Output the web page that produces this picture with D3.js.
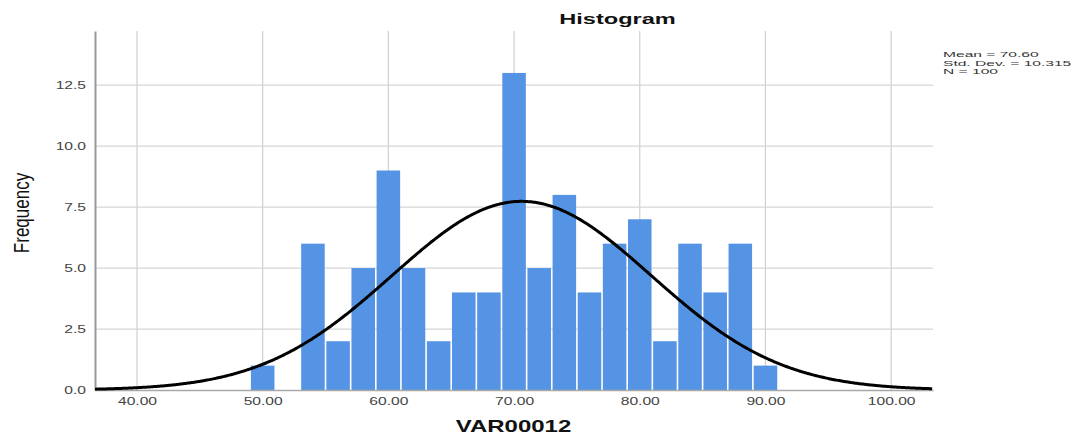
<!DOCTYPE html>
<html>
<head>
<meta charset="utf-8">
<script src="https://cdn.jsdelivr.net/npm/d3@7"></script>
<style>
  html, body { margin: 0; padding: 0; background: #fff; }
  svg { display: block; font-family: Arial, "Liberation Sans", sans-serif; }
</style>
</head>
<body>
<svg id="chart" width="1079" height="436"></svg>
<script>
// ---- data ----
const binLower = [49, 51, 53, 55, 57, 59, 61, 63, 65, 67, 69, 71, 73, 75, 77, 79, 81, 83, 85, 87, 89];
const binUpper = [51, 53, 55, 57, 59, 61, 63, 65, 67, 69, 71, 73, 75, 77, 79, 81, 83, 85, 87, 89, 91];
const counts   = [1, 0, 6, 2, 5, 9, 5, 2, 4, 4, 13, 5, 8, 4, 6, 7, 2, 6, 4, 6, 1];
const xTicks = [40, 50, 60, 70, 80, 90, 100];
const yTicks = [0, 2.5, 5, 7.5, 10, 12.5];
const statLabels = ["Mean = 70.60", "Std. Dev. = 10.315", "N = 100"];
const mean = 70.60, sd = 10.315, nTotal = 100, binWidth = 2;
const titleText = "Histogram";
const xLabel = "VAR00012";
const yLabel = "Frequency";

// ---- layout ----
const svg = d3.select("#chart");
const pLeft = 95, pRight = 933, pTop = 31, pBottom = 390;
const x = d3.scaleLinear().domain([36.66, 103.33]).range([pLeft, pRight]);
const y = d3.scaleLinear().domain([0, 14.72]).range([pBottom, pTop]);
const stretch = 1.42;

// grid
svg.append("g").selectAll("line").data(xTicks).join("line")
  .attr("x1", d => x(d)).attr("x2", d => x(d))
  .attr("y1", pTop).attr("y2", pBottom)
  .attr("stroke", "#cfcfcf").attr("stroke-width", 1.2);
svg.append("g").selectAll("line").data(yTicks.filter(d => d > 0)).join("line")
  .attr("x1", pLeft).attr("x2", pRight)
  .attr("y1", d => y(d)).attr("y2", d => y(d))
  .attr("stroke", "#d6d6d6").attr("stroke-width", 1.2);

// bars
const bins = counts.map((c, i) => ({ x0: binLower[i], x1: binUpper[i], c }));
svg.append("g").selectAll("rect").data(bins.filter(b => b.c > 0)).join("rect")
  .attr("x", d => x(d.x0) + 0.8)
  .attr("width", d => x(d.x1) - x(d.x0) - 1.6)
  .attr("y", d => y(d.c))
  .attr("height", d => y(0) - y(d.c))
  .attr("fill", "#5594e4");

// axes
const xAxis = svg.append("g").attr("transform", `translate(0,${pBottom})`)
  .call(d3.axisBottom(x).tickValues(xTicks).tickSize(0).tickFormat(d3.format(".2f")));
xAxis.select(".domain").attr("stroke", "#a8a8a8").attr("stroke-width", 1.5);
xAxis.selectAll("text")
  .attr("font-size", 11).attr("fill", "#444").attr("y", 7)
  .attr("transform", `scale(${stretch},1)`);

const yAxis = svg.append("g").attr("transform", `translate(${pLeft},0)`)
  .call(d3.axisLeft(y).tickValues(yTicks).tickSize(0).tickFormat(d3.format(".1f")));
yAxis.select(".domain").attr("stroke", "#9a9a9a").attr("stroke-width", 2);
yAxis.selectAll("text")
  .attr("font-size", 11).attr("fill", "#444").attr("x", -6.3)
  .attr("transform", `scale(${stretch},1)`);

// normal curve
const pdf = v => nTotal * binWidth / (sd * Math.sqrt(2 * Math.PI)) * Math.exp(-0.5 * ((v - mean) / sd) ** 2);
const xs = d3.range(x.domain()[0], x.domain()[1] + 0.01, 0.1);
svg.append("path")
  .datum(xs)
  .attr("fill", "none").attr("stroke", "#000").attr("stroke-width", 3)
  .attr("d", d3.line().x(d => x(d)).y(d => y(pdf(d))).curve(d3.curveBasis));

// title
svg.append("text")
  .attr("transform", `translate(617.5,24) scale(1.52,1)`)
  .attr("text-anchor", "middle").attr("font-size", 15.5).attr("font-weight", "bold")
  .attr("fill", "#111").text(titleText);

// x label
svg.append("text")
  .attr("transform", `translate(513.5,432) scale(1.5,1)`)
  .attr("text-anchor", "middle").attr("font-size", 16).attr("font-weight", "bold")
  .attr("fill", "#111").text(xLabel);

// y label
svg.append("text")
  .attr("transform", `translate(28.8,213) scale(1.3,1) rotate(-90)`)
  .attr("text-anchor", "middle").attr("font-size", 17)
  .attr("fill", "#111").text(yLabel);

// stats legend
svg.append("g").selectAll("text").data(statLabels).join("text")
  .attr("transform", (d, i) => `translate(943,${57 + i * 8.7}) scale(2.05,1)`)
  .attr("font-size", 7.6).attr("fill", "#333").text(d => d);
</script>
</body>
</html>
